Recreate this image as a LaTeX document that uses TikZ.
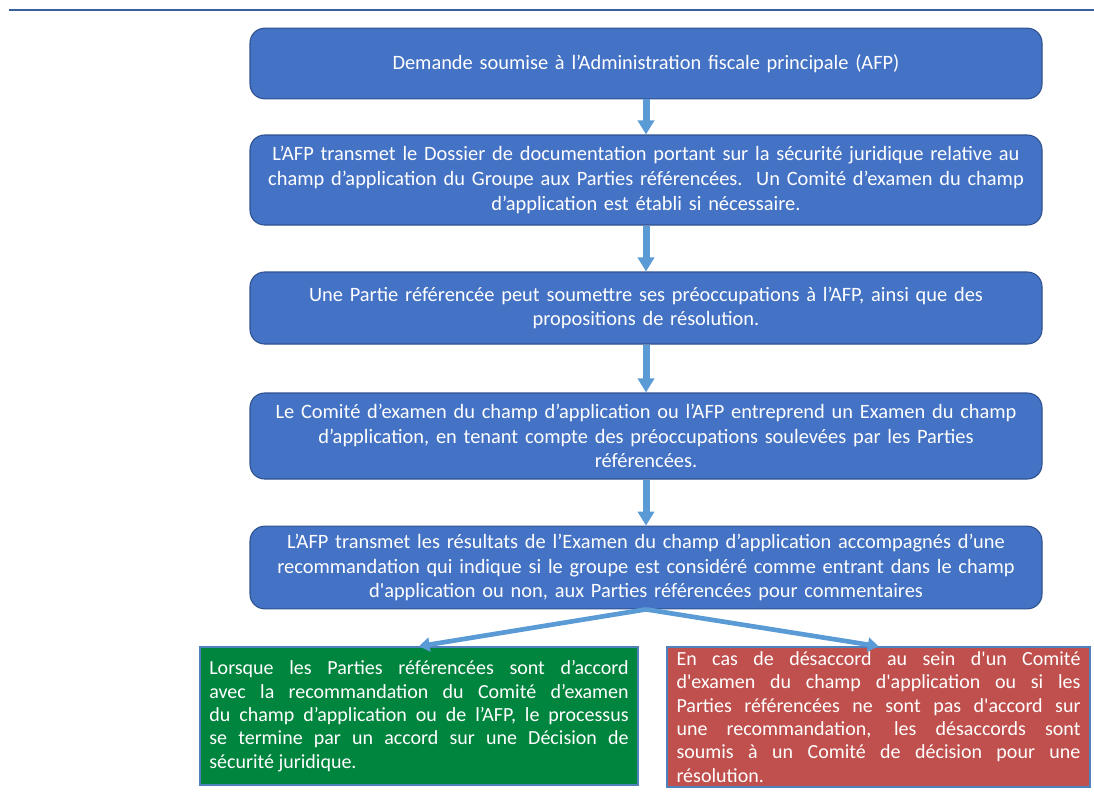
\documentclass[tikz,border=0pt]{standalone}
\usepackage{fontspec}
\setmainfont{Carlito}[Ligatures=TeXOff]
\usepackage{tikz}
\usetikzlibrary{arrows.meta,positioning}
\usepackage{xcolor}
\definecolor{boxblue}{RGB}{68,114,196}
\definecolor{edgeblue}{RGB}{47,82,143}
\definecolor{arrowblue}{RGB}{91,155,213}
\definecolor{rulecol}{RGB}{59,96,158}
\definecolor{okgreen}{RGB}{0,133,62}
\definecolor{nored}{RGB}{192,80,77}
\definecolor{outline}{RGB}{79,129,189}

\begin{document}
\begin{tikzpicture}[x=0.75pt, y=-0.75pt, every node/.style={text=white}, stage/.style={rectangle,rounded corners=11pt,draw=edgeblue,line width=0.8pt,fill=boxblue,minimum width=594pt,text width=574pt,inner xsep=10pt,align=center,font=\fontsize{15.3pt}{18.6pt}\selectfont}, outcome/.style={rectangle,draw=outline,line width=1.1pt,inner xsep=7pt,align=justify,font=\fontsize{15pt}{17.5pt}\selectfont}, flow/.style={-{Triangle[width=12pt,length=10.5pt]},line width=5.25pt,arrowblue}, split/.style={-{Triangle[width=10.5pt,length=8pt]},line width=3.5pt,arrowblue}]
  \useasboundingbox (0,0) rectangle (1094,793);
  \draw[rulecol,line width=1.1pt] (9,10) -- (1094,10);
  \node[stage,minimum height=53pt] (req) at (646,63.5) {Demande soumise à l’Administration fiscale principale (AFP)};
  \node[stage,minimum height=67.5pt] (doc) at (646,180) {L’AFP transmet le Dossier de documentation portant sur la sécurité juridique relative au\\champ d’application du Groupe aux Parties référencées.\ \ Un Comité d’examen du champ\\d’application est établi si nécessaire.};
  \node[stage,minimum height=54pt] (conc) at (646,308) {Une Partie référencée peut soumettre ses préoccupations à l’AFP, ainsi que des\\propositions de résolution.};
  \node[stage,minimum height=64.5pt] (exam) at (646,436) {Le Comité d’examen du champ d’application ou l’AFP entreprend un Examen du champ\\d’application, en tenant compte des préoccupations soulevées par les Parties\\référencées.};
  \node[stage,minimum height=62pt] (res) at (646,567.5) {L’AFP transmet les résultats de l’Examen du champ d’application accompagnés d’une\\recommandation qui indique si le groupe est considéré comme entrant dans le champ\\d'application ou non, aux Parties référencées pour commentaires};
  \node[outcome,fill=okgreen,text width=314.5pt,minimum height=103.5pt] (agree) at (419,716) {Lorsque les Parties référencées sont d’accord\linebreak avec la recommandation du Comité d’examen\linebreak du champ d’application ou de l’AFP, le processus\linebreak se termine par un accord sur une Décision de\linebreak sécurité juridique.};
  \node[outcome,fill=nored,text width=303pt,minimum height=105pt] (disagree) at (878.5,717) {En cas de désaccord au sein d'un Comité\linebreak d'examen du champ d'application ou si les\linebreak Parties référencées ne sont pas d'accord sur\linebreak une recommandation, les désaccords sont\linebreak soumis à un Comité de décision pour une\linebreak résolution.};
  \draw[flow] (req) -- (doc); \draw[flow] (doc) -- (conc); \draw[flow] (conc) -- (exam); \draw[flow] (exam) -- (res);
  \draw[split] (res.south) -- (agree.north); \draw[split] (res.south) -- (disagree.north);
\end{tikzpicture}
\end{document}
